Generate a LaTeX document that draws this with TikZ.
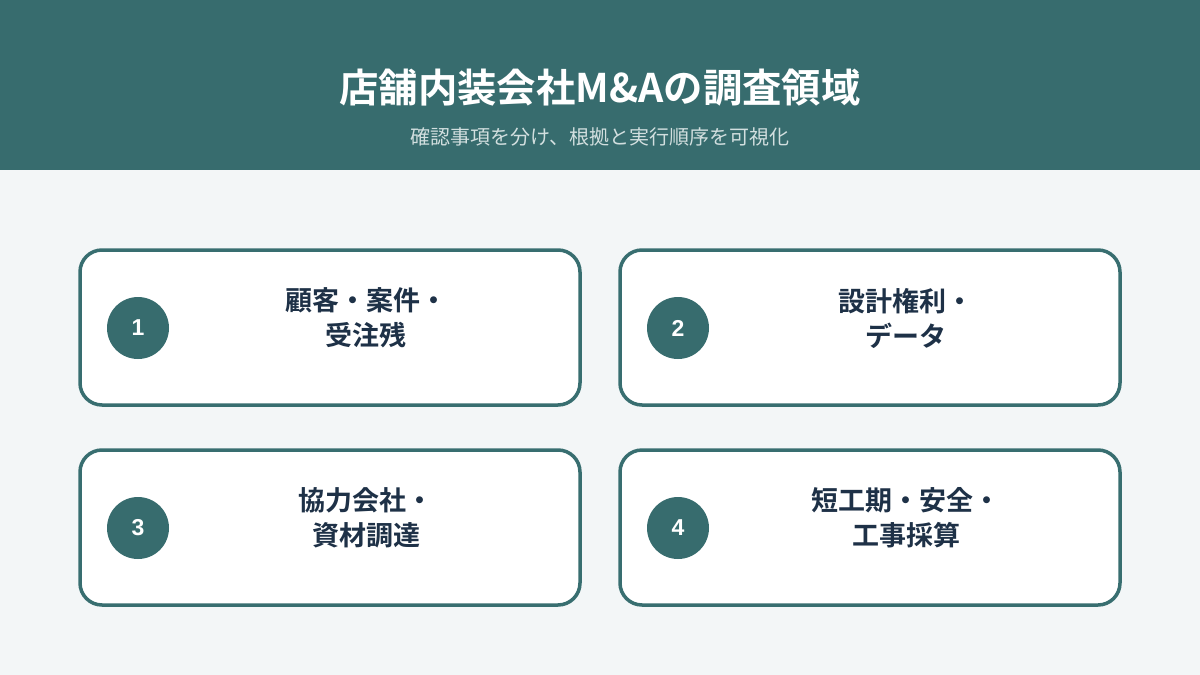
\documentclass[tikz,border=0pt]{standalone}
\usepackage{fontspec}
\setmainfont{Noto Sans CJK JP}
\newfontfamily\jpbold{Noto Sans CJK JP Bold}
\newfontfamily\numfont{Liberation Sans}[BoldFont=* Bold]
\definecolor{headbg}{HTML}{376C6E}
\definecolor{pagebg}{HTML}{F3F6F7}
\definecolor{cardline}{HTML}{386E70}
\definecolor{cardtext}{HTML}{1E3147}
\definecolor{subtext}{HTML}{D2DFDF}
\tikzset{
  card/.style={draw=cardline, line width=3.5pt, fill=white, rounded corners=22pt},
  numcirc/.style={circle, fill=headbg, minimum size=62pt, inner sep=0pt, text=white, font=\numfont\bfseries\fontsize{23}{25}\selectfont},
  cardlabel/.style={align=center, text=cardtext, font=\jpbold\fontsize{27}{35}\selectfont, inner sep=0pt},
}
\begin{document}
\begin{tikzpicture}[x=1pt,y=-1pt]
\useasboundingbox (0,0) rectangle (1200,675);
\fill[pagebg] (0,0) rectangle (1200,675);
\fill[headbg] (0,0) rectangle (1200,170);
\node[text=white, font=\jpbold\fontsize{39.4}{44}\selectfont] (title) at (600,88) {店舗内装会社M\&Aの調査領域};
\node[text=subtext, font=\fontsize{20}{22}\selectfont] (sub) at (600,137) {確認事項を分け、根拠と実行順序を可視化};

\draw[card] (80,250) rectangle (580,405);
\draw[card] (620,250) rectangle (1120,405);
\draw[card] (80,450) rectangle (580,605);
\draw[card] (620,450) rectangle (1120,605);

\node[numcirc] (n1) at (138,328) {1};
\node[numcirc] (n2) at (678,328) {2};
\node[numcirc] (n3) at (138,528) {3};
\node[numcirc] (n4) at (678,528) {4};

\node[cardlabel] (t1) at (366,318) {顧客・案件・\\受注残};
\node[cardlabel] (t2) at (906,318) {設計権利・\\データ};
\node[cardlabel] (t3) at (366,518) {協力会社・\\資材調達};
\node[cardlabel] (t4) at (906,518) {短工期・安全・\\工事採算};
\end{tikzpicture}
\end{document}
